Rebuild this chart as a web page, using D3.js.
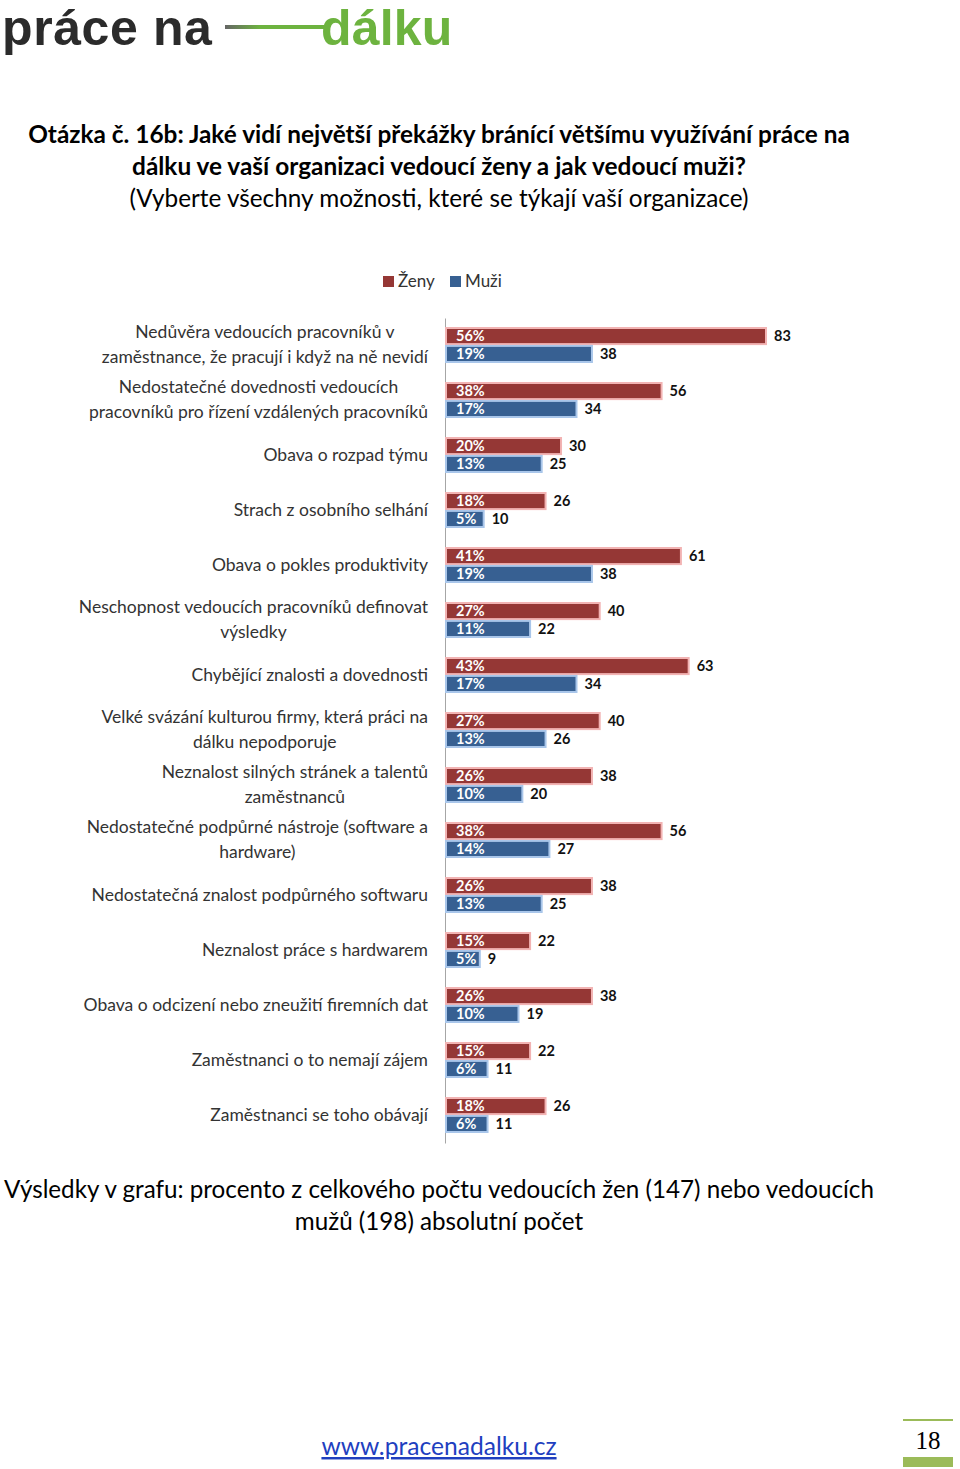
<!DOCTYPE html>
<html><head><meta charset="utf-8">
<script src="https://cdn.jsdelivr.net/npm/d3@7"></script>
<style>
html,body{margin:0;padding:0;background:#fff;}
svg{display:block;}
</style></head>
<body>
<svg id="c" width="960" height="1469"></svg>
<script>
const categories = [
  ["Nedůvěra vedoucích pracovníků v","zaměstnance, že pracují i když na ně nevidí"],
  ["Nedostatečné dovednosti vedoucích","pracovníků pro řízení vzdálených pracovníků"],
  ["Obava o rozpad týmu"],
  ["Strach z osobního selhání"],
  ["Obava o pokles produktivity"],
  ["Neschopnost vedoucích pracovníků definovat","výsledky"],
  ["Chybějící znalosti a dovednosti"],
  ["Velké svázání kulturou firmy, která práci na","dálku nepodporuje"],
  ["Neznalost silných stránek a talentů","zaměstnanců"],
  ["Nedostatečné podpůrné nástroje (software a","hardware)"],
  ["Nedostatečná znalost podpůrného softwaru"],
  ["Neznalost práce s hardwarem"],
  ["Obava o odcizení nebo zneužití firemních dat"],
  ["Zaměstnanci o to nemají zájem"],
  ["Zaměstnanci se toho obávají"]
];
const series = ["Ženy","Muži"];
const zenyCount = [83,56,30,26,61,40,63,40,38,56,38,22,38,22,26];
const zenyPct   = [56,38,20,18,41,27,43,27,26,38,26,15,26,15,18];
const muziCount = [38,34,25,10,38,22,34,26,20,27,25,9,19,11,11];
const muziPct   = [19,17,13,5,19,11,17,13,10,14,13,5,10,6,6];
const titleLines = ["Otázka č. 16b: Jaké vidí největší překážky bránící většímu využívání práce na","dálku ve vaší organizaci vedoucí ženy a jak vedoucí muži?"];
const subtitle = "(Vyberte všechny možnosti, které se týkají vaší organizace)";
const noteLines = ["Výsledky v grafu: procento z celkového počtu vedoucích žen (147) nebo vedoucích","mužů (198) absolutní počet"];

const colors = {"Ženy":"#953735","Muži":"#376092"};
const glow = {"Ženy":"#f2b3b3","Muži":"#a9c6ea"};

const svg = d3.select("#c");
const FONT = "Lato, 'Open Sans', sans-serif";

// logo
const logo = svg.append("g");
logo.append("text").attr("x",2).attr("y",45).attr("font-family","'Liberation Sans', Arial, sans-serif")
  .attr("font-weight","bold").attr("font-size",50).attr("letter-spacing",0.6).attr("fill","#2b2b2b").text("práce na");
const grad = svg.append("defs").append("linearGradient").attr("id","lg");
grad.append("stop").attr("offset","0%").attr("stop-color","#666");
grad.append("stop").attr("offset","35%").attr("stop-color","#6db33f");
logo.append("rect").attr("x",225).attr("y",25).attr("width",100).attr("height",4).attr("fill","url(#lg)");
logo.append("text").attr("x",321).attr("y",45).attr("font-family","'Liberation Sans', Arial, sans-serif")
  .attr("font-weight","bold").attr("font-size",50).attr("letter-spacing",0.2).attr("fill","#6db33f").text("dálku");

// title
const cx = 439;
svg.append("g").selectAll("text").data(titleLines).join("text")
  .attr("x",cx).attr("y",(d,i)=>143+i*32).attr("text-anchor","middle")
  .attr("font-family",FONT).attr("font-weight","bold").attr("font-size",24.4).attr("fill","#000").text(d=>d);
svg.append("text").attr("x",cx).attr("y",207).attr("text-anchor","middle")
  .attr("font-family",FONT).attr("font-size",24.3).attr("fill","#000").text(subtitle);

// legend
const lg = svg.append("g").attr("font-family",FONT).attr("font-size",17).attr("fill","#333");
const legX = [383,450];
series.forEach((s,i)=>{
  lg.append("rect").attr("x",legX[i]).attr("y",276).attr("width",11).attr("height",11).attr("fill",colors[s]);
  lg.append("text").attr("x",legX[i]+15).attr("y",287).text(s);
});

// scales
const x = d3.scaleLinear().domain([0, d3.max(zenyCount)]).range([445, 766]);
const y = d3.scaleBand().domain(d3.range(categories.length)).range([318, 1143]);
const sub = d3.scaleBand().domain(series).range([10, 44]).paddingInner(0.1);

// axis
const ax = svg.append("g").attr("transform",`translate(${x(0)},0)`)
  .call(d3.axisLeft(y).tickSize(0).tickSizeOuter(0).tickFormat(""));
ax.select(".domain").attr("stroke","#a6a6a6").attr("stroke-width",1);

// category labels (block right-aligned, lines centred within block)
const lab = svg.append("g").attr("font-family",FONT).attr("font-size",17.5).attr("fill","#333").attr("text-anchor","middle");
const labelRight = 428;
categories.forEach((lines,i)=>{
  const c = y(i) + y.bandwidth()/2;
  const g = lab.append("g");
  const ts = lines.map((l,j)=> g.append("text").attr("y", c + (j-(lines.length-1)/2)*25 + 5).text(l));
  const w = d3.max(ts, t=>t.node().getComputedTextLength());
  ts.forEach(t=>t.attr("x", labelRight - w/2));
});

// bars
const rows = [];
categories.forEach((c,i)=>{
  rows.push({i, s:"Ženy", v:zenyCount[i], p:zenyPct[i]});
  rows.push({i, s:"Muži", v:muziCount[i], p:muziPct[i]});
});
const bars = svg.append("g");
bars.selectAll("rect").data(rows).join("rect")
  .attr("x",x(0)+1).attr("y",d=>y(d.i)+sub(d.s))
  .attr("width",d=>x(d.v)-x(0)-1).attr("height",sub.bandwidth())
  .attr("fill",d=>colors[d.s]).attr("stroke",d=>glow[d.s]).attr("stroke-width",2);
bars.selectAll("text.p").data(rows).join("text").attr("class","p")
  .attr("x",x(0)+11).attr("y",d=>y(d.i)+sub(d.s)+sub.bandwidth()/2+5)
  .attr("font-family",FONT).attr("font-weight","bold").attr("font-size",14.5).attr("fill","#fff")
  .text(d=>d.p+"%");
bars.selectAll("text.v").data(rows).join("text").attr("class","v")
  .attr("x",d=>x(d.v)+8).attr("y",d=>y(d.i)+sub(d.s)+sub.bandwidth()/2+5)
  .attr("font-family",FONT).attr("font-weight","bold").attr("font-size",14.5).attr("fill","#111")
  .text(d=>d.v);

// note
svg.append("g").selectAll("text").data(noteLines).join("text")
  .attr("x",cx).attr("y",(d,i)=>1198+i*32).attr("text-anchor","middle")
  .attr("font-family",FONT).attr("font-size",24.2).attr("fill","#000").text(d=>d);

// link
svg.append("text").attr("x",439).attr("y",1455).attr("text-anchor","middle")
  .attr("font-family",FONT).attr("font-size",24.6).attr("fill","#1f3fbf").attr("text-decoration","underline")
  .text("www.pracenadalku.cz");

// page number
svg.append("rect").attr("x",903).attr("y",1419).attr("width",50).attr("height",2).attr("fill","#9bbb59");
svg.append("text").attr("x",928).attr("y",1449).attr("text-anchor","middle")
  .attr("font-family","'Liberation Serif', 'DejaVu Serif', serif").attr("font-size",25).attr("fill","#000").text("18");
svg.append("rect").attr("x",903).attr("y",1457).attr("width",50).attr("height",10).attr("fill","#9bbb59");
</script>
</body></html>
